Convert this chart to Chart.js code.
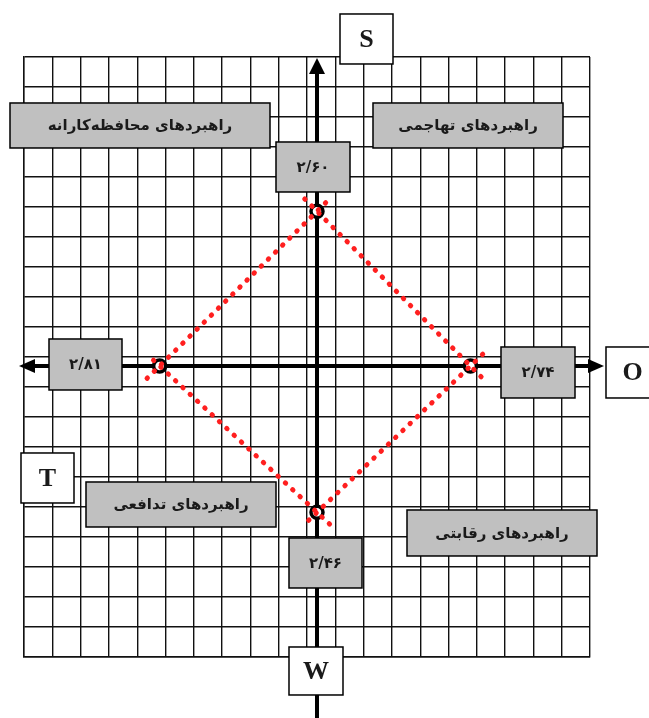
<!DOCTYPE html>
<html lang="fa">
<head>
<meta charset="utf-8">
<script src="https://cdn.jsdelivr.net/npm/chart.js@4"></script>
<style>
  html, body { margin: 0; padding: 0; background: #fff; }
  canvas { display: block; }
</style>
</head>
<body>
<canvas id="spaceChart" width="649" height="718"></canvas>
<script>
// SPACE / SWOT strategic position: S up, O right, W down, T left
const directions = ["S", "O", "W", "T"];
const scores = [2.60, 2.74, 2.46, 2.81];
const scoreLabels = ["۲/۶۰", "۲/۷۴", "۲/۴۶", "۲/۸۱"];
const strategyNames = ["راهبردهای تهاجمی", "راهبردهای محافظه‌کارانه", "راهبردهای تدافعی", "راهبردهای رقابتی"];
const gridSteps = 20;

const dirVec = { S: [0, 1], O: [1, 0], W: [0, -1], T: [-1, 0] };
const vertices = directions.map((d, i) => ({ x: dirVec[d][0] * scores[i], y: dirVec[d][1] * scores[i] }));

// each side of the diamond is drawn a bit past its corners, like the original
const overshoot = 0.08;
const sides = vertices.map((a, i) => {
  const b = vertices[(i + 1) % vertices.length];
  return [
    { x: a.x + (a.x - b.x) * overshoot, y: a.y + (a.y - b.y) * overshoot },
    { x: b.x + (b.x - a.x) * overshoot, y: b.y + (b.y - a.y) * overshoot }
  ];
});

// boxes placed relative to the axes origin (pixels): [dx, dy, w, h]
const letterBoxes = { S: [23, -352, 53, 50], O: [289, -19, 53, 51], W: [-28, 281, 54, 48], T: [-296, 87, 53, 50] };
const scoreBoxes = { S: [-41, -224, 74, 50], O: [184, -19, 74, 51], W: [-28, 172, 73, 50], T: [-268, -27, 73, 51] };
const strategyBoxes = [[56, -263, 190, 45], [-307, -263, 260, 45], [-231, 116, 190, 45], [90, 144, 190, 46]];

function origin(chart) {
  return { ox: chart.scales.x.getPixelForValue(0), oy: chart.scales.y.getPixelForValue(0) };
}

function drawBox(ctx, x, y, w, h, fill, text, font, rtl) {
  ctx.save();
  ctx.fillStyle = fill;
  ctx.fillRect(x, y, w, h);
  ctx.strokeStyle = "#000";
  ctx.lineWidth = 1.5;
  ctx.strokeRect(x, y, w, h);
  ctx.fillStyle = "#1a1a1a";
  ctx.font = font;
  ctx.textAlign = "center";
  ctx.textBaseline = "middle";
  ctx.direction = rtl ? "rtl" : "ltr";
  ctx.fillText(text, x + w / 2, y + h / 2 + 1);
  ctx.restore();
}

const backgroundPlugin = {
  id: "bg",
  beforeDraw(chart) {
    const ctx = chart.ctx;
    ctx.save();
    ctx.fillStyle = "#fff";
    ctx.fillRect(0, 0, chart.width, chart.height);
    ctx.restore();
  }
};

const axesPlugin = {
  id: "axes",
  beforeDatasetsDraw(chart) {
    const ctx = chart.ctx;
    const { ox, oy } = origin(chart);
    const area = chart.chartArea;
    ctx.save();
    ctx.strokeStyle = "#000";
    ctx.fillStyle = "#000";
    ctx.lineWidth = 4;
    // vertical axis
    ctx.beginPath();
    ctx.moveTo(ox, area.top + 14);
    ctx.lineTo(ox, chart.height);
    ctx.stroke();
    ctx.beginPath();
    ctx.moveTo(ox, area.top + 1);
    ctx.lineTo(ox - 8, area.top + 17);
    ctx.lineTo(ox + 8, area.top + 17);
    ctx.closePath();
    ctx.fill();
    // horizontal axis
    const left = area.left - 5, right = area.right + 14;
    ctx.beginPath();
    ctx.moveTo(left + 12, oy);
    ctx.lineTo(right - 12, oy);
    ctx.stroke();
    ctx.beginPath();
    ctx.moveTo(left, oy);
    ctx.lineTo(left + 16, oy - 7);
    ctx.lineTo(left + 16, oy + 7);
    ctx.closePath();
    ctx.fill();
    ctx.beginPath();
    ctx.moveTo(right, oy);
    ctx.lineTo(right - 16, oy - 7);
    ctx.lineTo(right - 16, oy + 7);
    ctx.closePath();
    ctx.fill();
    ctx.restore();
  }
};

const labelsPlugin = {
  id: "labels",
  afterDraw(chart) {
    const ctx = chart.ctx;
    const { ox, oy } = origin(chart);
    strategyNames.forEach((name, i) => {
      const [dx, dy, w, h] = strategyBoxes[i];
      drawBox(ctx, ox + dx, oy + dy, w, h, "#c0c0c0", name, 'bold 15px "DejaVu Sans"', true);
    });
    directions.forEach((d, i) => {
      const [dx, dy, w, h] = scoreBoxes[d];
      drawBox(ctx, ox + dx, oy + dy, w, h, "#c0c0c0", scoreLabels[i], 'bold 15px "DejaVu Sans"', true);
    });
    directions.forEach(d => {
      const [dx, dy, w, h] = letterBoxes[d];
      drawBox(ctx, ox + dx, oy + dy, w, h, "#fff", d, 'bold 26px "Liberation Serif"', false);
    });
  }
};

const gridScale = pos => ({
  type: "linear",
  position: pos,
  min: 0,
  max: gridSteps,
  ticks: { display: false, stepSize: 1 },
  grid: { color: "#111", lineWidth: 1.4, drawTicks: false },
  border: { display: true, color: "#111", width: 1.4 }
});

new Chart(document.getElementById("spaceChart"), {
  type: "scatter",
  data: {
    datasets: [
      ...sides.map(seg => ({
        data: seg,
        xAxisID: "x",
        yAxisID: "y",
        showLine: true,
        borderColor: "#ff1f1f",
        borderWidth: 5,
        borderDash: [0.5, 9.5],
        borderCapStyle: "round",
        pointRadius: 0,
        order: 0
      })),
      {
        data: vertices,
        xAxisID: "x",
        yAxisID: "y",
        pointRadius: 6,
        pointBorderWidth: 3.5,
        pointBorderColor: "#000",
        pointBackgroundColor: "#fff",
        order: 1
      }
    ]
  },
  options: {
    responsive: false,
    animation: false,
    devicePixelRatio: 1,
    layout: { padding: { left: 24, right: 59, top: 57, bottom: 61 } },
    plugins: { legend: { display: false }, tooltip: { enabled: false } },
    scales: {
      gx: gridScale("bottom"),
      gy: gridScale("left"),
      x: { type: "linear", display: false, min: -5.232, max: 4.875 },
      y: { type: "linear", display: false, min: -4.891, max: 5.193 }
    }
  },
  plugins: [backgroundPlugin, axesPlugin, labelsPlugin]
});
</script>
</body>
</html>
